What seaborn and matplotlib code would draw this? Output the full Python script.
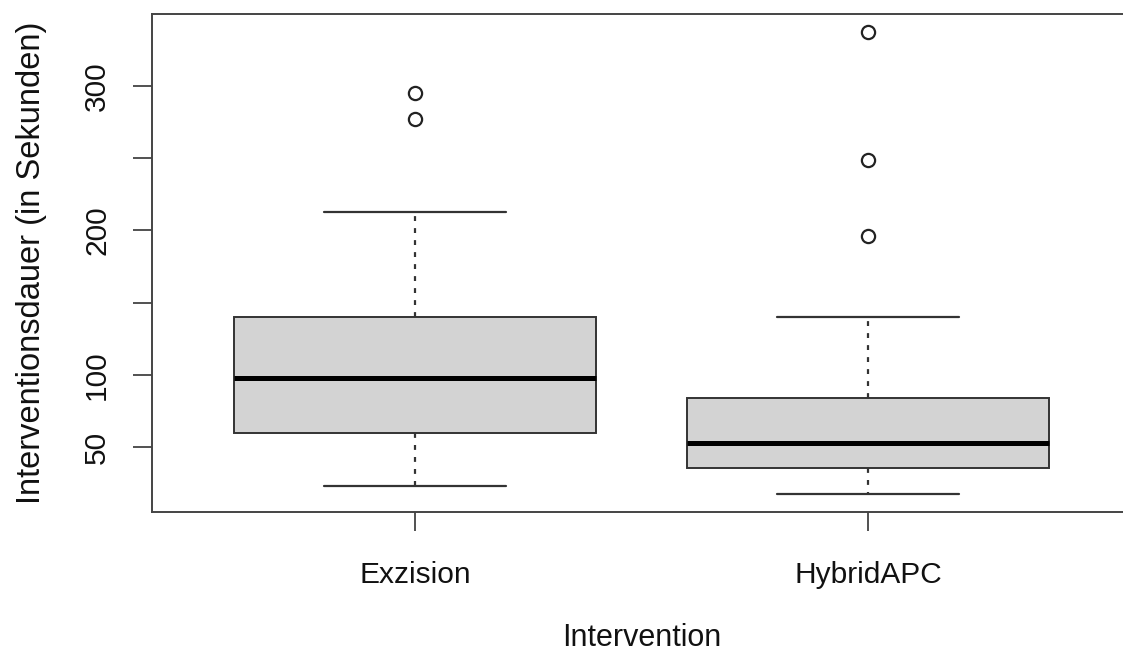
import numpy as np
import pandas as pd
import matplotlib
matplotlib.use("Agg")
import matplotlib.pyplot as plt
import seaborn as sns

# Interventionsdauer je Gruppe (Sekunden)
exzision = [23, 32, 41, 52, 60, 68, 77, 88, 98, 106, 115, 127, 140, 172, 213, 277, 295]
hybrid_apc = [18, 22, 27, 31, 36, 39, 43, 48, 53, 58, 66, 75, 84, 140, 196, 249, 337]
groups = ["Exzision", "HybridAPC"]

y_ticks = [50, 100, 150, 200, 250, 300]
y_tick_labels = ["50", "100", "", "200", "", "300"]

df = pd.DataFrame({
    "Intervention": [groups[0]] * len(exzision) + [groups[1]] * len(hybrid_apc),
    "Dauer": exzision + hybrid_apc,
})

sns.set_style("white")
plt.rcParams["font.family"] = ["Liberation Sans", "DejaVu Sans"]

W, H = 1123, 655
fig = plt.figure(figsize=(W / 100, H / 100), dpi=100)
ax = fig.add_axes([152 / W, 1 - 512 / H, (1131 - 152) / W, (512 - 14) / H])

line_col = "#333333"
sns.boxplot(
    data=df, x="Intervention", y="Dauer", ax=ax,
    order=groups, color="#D3D3D3", saturation=1, width=0.8,
    linecolor=line_col, linewidth=1.4,
    medianprops=dict(color="black", linewidth=3.6),
    whiskerprops=dict(color=line_col, linestyle=(0, (2.2, 3.2)), linewidth=1.6),
    capprops=dict(color=line_col, linewidth=1.6),
    flierprops=dict(marker="o", markersize=9.5, markerfacecolor="none",
                    markeredgecolor="#222222", markeredgewidth=1.6),
)

# axis ranges with 4 % padding around the data
vals = np.array(exzision + hybrid_apc, dtype=float)
pad = 0.04 * (vals.max() - vals.min())
ax.set_ylim(vals.min() - pad, vals.max() + pad)
ax.set_xlim(-0.58, 1.58)

ax.set_yticks(y_ticks)
ax.set_yticklabels(y_tick_labels, rotation=90, va="center")
ax.tick_params(axis="both", direction="out", length=13.5, width=1.2,
               bottom=True, left=True,
               color="#333333", labelsize=21.5, labelcolor="#111111")
ax.tick_params(axis="y", pad=16)
ax.tick_params(axis="x", pad=22)

for side in ["top", "left", "bottom", "right"]:
    ax.spines[side].set_visible(True)
    ax.spines[side].set_color("#444444")
    ax.spines[side].set_linewidth(1.4)

ax.set_xlabel("Intervention", fontsize=22, color="#111111", labelpad=24)
ax.set_ylabel("Interventionsdauer (in Sekunden)", fontsize=23.5, color="#111111", labelpad=26)

fig.savefig("out.png", dpi=100, facecolor="white")
